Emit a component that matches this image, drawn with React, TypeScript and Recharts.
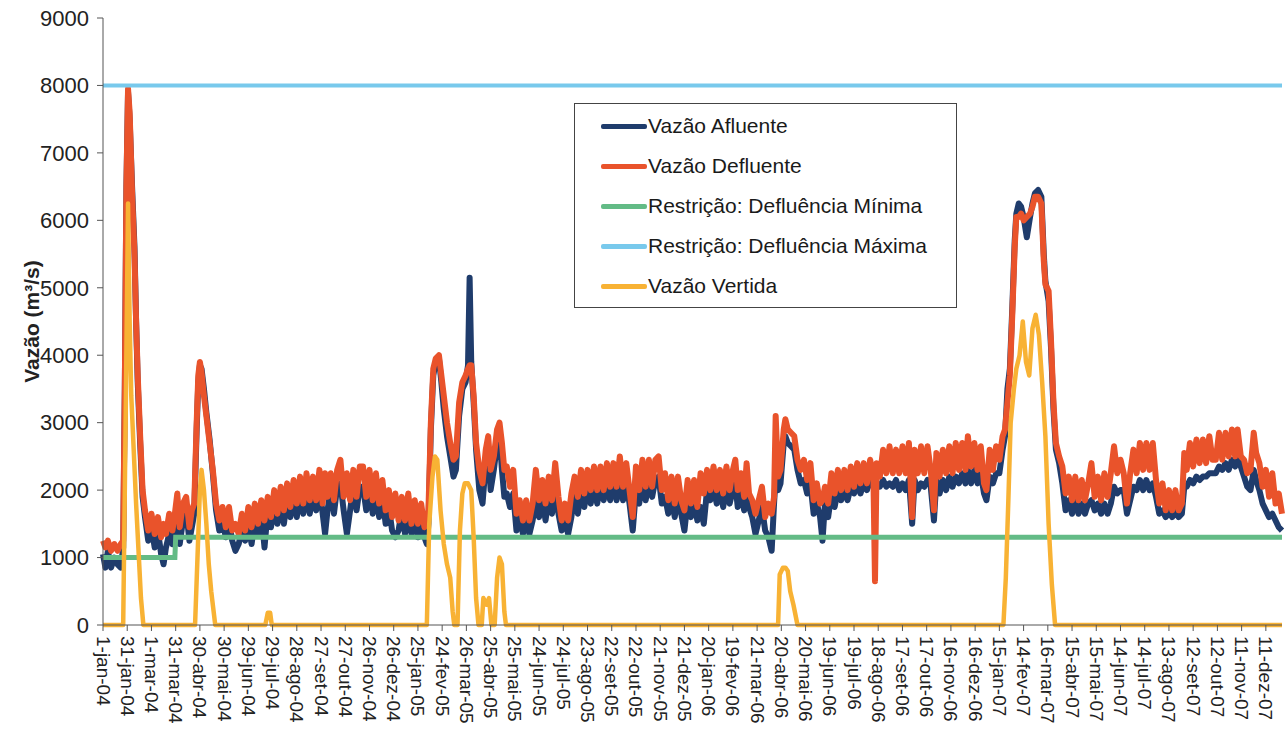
import * as React from "react";
import { LineChart, Line, XAxis, YAxis, Legend } from "recharts";

// x axis labels, one every 30 days starting on 1-jan-04 (day 0)
const tickLabels = [
  "1-jan-04", "31-jan-04", "1-mar-04", "31-mar-04", "30-abr-04", "30-mai-04", "29-jun-04",
  "29-jul-04", "28-ago-04", "27-set-04", "27-out-04", "26-nov-04", "26-dez-04", "25-jan-05",
  "24-fev-05", "26-mar-05", "25-abr-05", "25-mai-05", "24-jun-05", "24-jul-05", "23-ago-05",
  "22-set-05", "22-out-05", "21-nov-05", "21-dez-05", "20-jan-06", "19-fev-06", "21-mar-06",
  "20-abr-06", "20-mai-06", "19-jun-06", "19-jul-06", "18-ago-06", "17-set-06", "17-out-06",
  "16-nov-06", "16-dez-06", "15-jan-07", "14-fev-07", "16-mar-07", "15-abr-07", "15-mai-07",
  "14-jun-07", "14-jul-07", "13-ago-07", "12-set-07", "12-out-07", "11-nov-07", "11-dez-07",
];
const tickDays = tickLabels.map((_, i) => i * 30);
const yTicks = [0, 1000, 2000, 3000, 4000, 5000, 6000, 7000, 8000, 9000];

const legendOrder = [
  "Vazão Afluente",
  "Vazão Defluente",
  "Restrição: Defluência Mínima",
  "Restrição: Defluência Máxima",
  "Vazão Vertida",
];

// days since 1-jan-04 for the flow series
const flowDays = [
  0, 3, 6, 10, 14, 18, 22, 25, 27, 29,
  31, 33, 36, 39, 41, 43, 46, 49, 52, 56,
  60, 64, 68, 72, 75, 78, 82, 86, 89, 92,
  95, 99, 103, 107, 110, 113, 116, 118, 120, 122,
  125, 128, 132, 136, 140, 144, 148, 152, 156, 160,
  164, 168, 172, 176, 180, 184, 188, 192, 196, 200,
  204, 208, 212, 216, 220, 224, 228, 232, 236, 240,
  244, 248, 252, 256, 260, 264, 268, 272, 275, 278,
  282, 286, 290, 294, 298, 302, 306, 310, 314, 318,
  322, 326, 330, 334, 338, 342, 346, 350, 354, 358,
  362, 366, 370, 374, 378, 382, 386, 390, 394, 398,
  401, 403, 406, 409, 412, 416, 419, 422, 426, 430,
  434, 437, 441, 445, 449, 452, 454, 456, 459, 462,
  466, 470, 474, 477, 480, 484, 488, 491, 494, 497,
  500, 504, 508, 512, 516, 520, 524, 528, 532, 536,
  540, 544, 548, 552, 556, 560, 564, 568, 572, 576,
  580, 584, 588, 592, 596, 600, 604, 608, 612, 616,
  620, 624, 628, 632, 636, 640, 644, 648, 652, 656,
  660, 664, 668, 672, 676, 680, 684, 688, 692, 696,
  700, 704, 708, 712, 716, 720, 724, 728, 732, 736,
  740, 744, 748, 752, 756, 760, 764, 768, 772, 776,
  780, 783, 786, 790, 794, 797, 800, 804, 808, 812,
  816, 820, 824, 828, 831, 833, 836, 839, 843, 845,
  848, 852, 856, 860, 864, 868, 872, 876, 880, 884,
  888, 891, 894, 898, 902, 906, 910, 914, 918, 922,
  926, 930, 934, 938, 942, 946, 950, 954, 956, 958,
  962, 966, 970, 974, 978, 982, 986, 990, 994, 998,
  1002, 1005, 1009, 1013, 1017, 1021, 1025, 1029, 1032, 1036,
  1040, 1044, 1048, 1052, 1056, 1060, 1064, 1068, 1071, 1075,
  1079, 1083, 1087, 1091, 1094, 1098, 1102, 1106, 1110, 1114,
  1117, 1120, 1123, 1126, 1129, 1131, 1134, 1137, 1140, 1144,
  1148, 1151, 1154, 1158, 1162, 1165, 1167, 1171, 1174, 1177,
  1180, 1184, 1188, 1192, 1196, 1200, 1204, 1208, 1212, 1216,
  1220, 1224, 1228, 1232, 1236, 1240, 1244, 1248, 1252, 1256,
  1260, 1264, 1268, 1272, 1276, 1280, 1284, 1288, 1292, 1296,
  1300, 1304, 1308, 1312, 1316, 1320, 1324, 1328, 1332, 1336,
  1339, 1342, 1346, 1350, 1354, 1358, 1362, 1366, 1370, 1374,
  1378, 1382, 1386, 1390, 1394, 1398, 1402, 1405, 1409, 1413,
  1417, 1421, 1425, 1428, 1432, 1436, 1440, 1444, 1448, 1452,
  1456, 1460,
];

// Vazão Afluente (m3/s)
const afluente = [
  1050, 850, 1100, 850, 1000, 900, 850, 1150, 3500, 6500,
  7900, 7500, 6500, 5600, 4500, 3600, 2700, 1900, 1600, 1250,
  1450, 1150, 1400, 1050, 900, 1150, 1350, 1200, 1400, 1700,
  1200, 1550, 1700, 1250, 1450, 1650, 2900, 3600, 3850, 3800,
  3500, 3150, 2750, 2250, 1700, 1400, 1550, 1300, 1550, 1250,
  1100, 1200, 1400, 1250, 1500, 1200, 1550, 1350, 1650, 1150,
  1700, 1450, 1750, 1500, 1800, 1500, 1850, 1600, 1900, 1600,
  1950, 1650, 2000, 1650, 1950, 1700, 2050, 1650, 1350, 1700,
  2000, 1650, 2050, 2100, 1700, 1350, 1700, 2050, 1700, 2050,
  2050, 1700, 2050, 1650, 1950, 1600, 1900, 1500, 1750, 1400,
  1300, 1400, 1700, 1350, 1700, 1350, 1650, 1300, 1550, 1300,
  1200, 1500, 2900, 3700, 3900, 3950, 3600, 3200, 2800, 2500,
  2200, 2300, 3100, 3500, 3600, 3850, 5150, 3900, 3300, 2600,
  2000, 1800, 2400, 2600, 2000, 2300, 2700, 2800, 2300, 1900,
  1950, 1750, 1950, 1400, 1600, 1350, 1600, 1350, 1550, 1850,
  1600, 1900, 1550, 1900, 1650, 2000, 1650, 1400, 1550, 1350,
  1600, 2000, 1650, 2000, 1750, 2050, 1800, 2100, 1800, 2100,
  1850, 2100, 1850, 2150, 1850, 2150, 1850, 2100, 1800, 1400,
  2000, 1800, 2150, 1850, 2150, 1900, 2150, 2200, 1800, 1900,
  1650, 1900, 1600, 1900, 1650, 1400, 1850, 1600, 1850, 1550,
  1750, 1500, 2000, 1850, 2050, 1800, 2000, 1750, 2050, 1800,
  2000, 2100, 1750, 1950, 1700, 2050, 1750, 1600, 1350, 1550,
  1750, 1400, 1300, 1100, 1800, 2200, 2000, 2100, 2700, 2800,
  2700, 2650, 2600, 2300, 2100, 2150, 1950, 2100, 1650, 1800,
  1600, 1250, 1800, 1600, 1950, 1750, 2000, 1850, 2000, 1850,
  2050, 1950, 2100, 1950, 2100, 2000, 2150, 2050, 2000, 2050,
  2050, 2150, 2050, 2100, 2050, 2150, 2000, 2100, 2000, 2150,
  1500, 2150, 2000, 2100, 2050, 2150, 2050, 1550, 2150, 1950,
  2150, 2000, 2200, 2050, 2200, 2100, 2250, 2100, 2300, 2100,
  2300, 2100, 2250, 1950, 1850, 2200, 2100, 2250, 2250, 2600,
  2800, 3500, 3800, 4700, 5700, 6100, 6250, 6200, 6050, 5750,
  6050, 6250, 6400, 6450, 6350, 5500, 5100, 4800, 4100, 3200,
  2600, 2400, 2100, 1700, 1850, 1650, 1850, 1650, 1800, 1650,
  1800, 1850, 1700, 1800, 1650, 1800, 1650, 1800, 2050, 1950,
  2000, 2000, 1650, 1850, 2050, 2000, 2150, 2000, 2150, 2000,
  2100, 1900, 1650, 1700, 1600, 1700, 1600, 1700, 1600, 1650,
  2050, 2050, 2150, 2100, 2200, 2150, 2200, 2200, 2250, 2250,
  2250, 2350, 2300, 2400, 2300, 2450, 2350, 2600, 2350, 2200,
  2050, 2000, 2300, 2150, 2000, 1800, 1700, 1600, 1650, 1550,
  1450, 1400,
];

// Vazão Defluente (m3/s)
const defluente = [
  1250, 1150, 1250, 1100, 1200, 1100, 1200, 1250, 3500, 6500,
  7950, 7600, 6400, 5500, 4500, 3700, 2800, 2000, 1700, 1400,
  1650, 1350, 1600, 1300, 1500, 1350, 1650, 1400, 1650, 1950,
  1450, 1800, 1900, 1450, 1700, 1800, 3000, 3700, 3900, 3750,
  3400, 3100, 2700, 2300, 1800, 1550, 1750, 1450, 1750, 1400,
  1500, 1350, 1650, 1400, 1750, 1450, 1800, 1500, 1850, 1550,
  1900, 1600, 2000, 1650, 2050, 1700, 2100, 1750, 2150, 1800,
  2200, 1800, 2250, 1850, 2200, 1850, 2300, 1800, 2250, 1900,
  2250, 1850, 2300, 2450, 1900, 2250, 1850, 2300, 1900, 2350,
  2350, 1900, 2300, 1850, 2250, 1800, 2150, 1700, 2000, 1600,
  1950, 1550, 1900, 1550, 1950, 1500, 1850, 1500, 1800, 1450,
  1550, 1700, 3000, 3800, 3950, 4000, 3700, 3400, 3000, 2700,
  2450, 2500, 3300, 3600, 3700, 3800, 3850, 3850, 3400, 2700,
  2300, 2100, 2600, 2800, 2300, 2500, 2900, 3000, 2700, 2300,
  2350, 2050, 2300, 1650, 1850, 1550, 1850, 1550, 1800, 2300,
  1850, 2150, 1800, 2200, 1850, 2400, 1900, 1550, 1800, 1550,
  1950, 2200, 1900, 2300, 1950, 2300, 2000, 2350, 2000, 2350,
  2000, 2400, 2050, 2400, 2050, 2500, 2050, 2400, 2000, 1600,
  2350, 2000, 2450, 2050, 2450, 2050, 2450, 2500, 2000, 2250,
  1850, 2200, 1800, 2200, 1850, 1700, 2150, 1800, 2150, 1750,
  2250, 1950, 2300, 2000, 2350, 2000, 2300, 1950, 2350, 2000,
  2300, 2450, 2000, 2250, 1900, 2400, 1950, 1850, 1650, 1850,
  2050, 1600, 1800, 1650, 1900, 3100, 2200, 2300, 2900, 3050,
  2900, 2850, 2800, 2450, 2300, 2450, 2150, 2400, 1850, 2100,
  1800, 1850, 2050, 1800, 2250, 1950, 2300, 2000, 2300, 2000,
  2350, 2050, 2400, 2100, 2400, 2100, 2450, 2200, 650, 2400,
  2200, 2600, 2250, 2650, 2250, 2600, 2250, 2650, 2250, 2700,
  1600, 2600, 2250, 2650, 2250, 2650, 2300, 1700, 2550, 2200,
  2600, 2250, 2650, 2250, 2700, 2300, 2700, 2300, 2800, 2350,
  2700, 2300, 2650, 2100, 2000, 2600, 2300, 2650, 2450, 2800,
  2900, 3300, 3700, 4600, 5600, 6050, 6050, 6100, 6000, 6050,
  6100, 6200, 6350, 6350, 6250, 5400, 5050, 4950, 4200, 3300,
  2700, 2500, 2350, 1950, 2200, 1850, 2200, 1850, 2150, 1850,
  2100, 2400, 1900, 2200, 1850, 2250, 1900, 2250, 2650, 2250,
  2450, 2250, 1800, 2250, 2600, 2250, 2700, 2300, 2700, 2300,
  2700, 2150, 1800, 2100, 1700, 2000, 1700, 2000, 1700, 1800,
  2550, 2300, 2700, 2350, 2750, 2400, 2750, 2400, 2800, 2450,
  2450, 2850, 2450, 2850, 2500, 2900, 2500, 2900, 2500, 2450,
  2250, 2300, 2850, 2550, 2400, 2050, 2300, 1900, 2250, 1800,
  1950, 1650,
];

// Vazão Vertida: only the spill events, zero elsewhere
const vertidaDays = [
  0, 25, 28, 31, 33, 35, 38, 41, 44, 47, 50,
  114, 117, 120, 122, 125, 128, 131, 134, 139,
  201, 204, 207, 209,
  401, 404, 408, 411, 414, 418, 422, 426, 430, 433, 435,
  439, 442, 445, 448, 452, 456, 459, 462, 465,
  469, 471, 475, 478, 481, 485, 488, 491, 494, 497, 499,
  836, 838, 842, 845, 848, 851, 855, 860,
  1115, 1118, 1121, 1124, 1128, 1131, 1135, 1139, 1143, 1147,
  1151, 1155, 1159, 1163, 1167, 1171, 1175, 1179,
  1460,
];
const vertida = [
  0, 0, 3000, 6250, 4500, 3400, 2600, 1800, 1100, 400, 0,
  0, 1000, 2000, 2300, 2000, 1500, 900, 500, 0,
  0, 180, 180, 0,
  0, 1500, 2200, 2500, 2450, 1700, 1200, 900, 700, 200, 0,
  0, 1400, 1950, 2100, 2100, 2000, 1300, 400, 0,
  0, 400, 300, 400, 0, 0, 700, 1000, 900, 200, 0,
  0, 750, 850, 850, 800, 500, 300, 0,
  0, 700, 1800, 3000, 3500, 3800, 4000, 4500, 3900, 3700,
  4400, 4600, 4300, 3600, 2800, 1500, 600, 0,
  0,
];

// restrictions
const minimaDays = [0, 89, 90, 1460];
const minima = [1000, 1000, 1300, 1300];
const maximaDays = [0, 1460];
const maxima = [8000, 8000];

const flowData = flowDays.map((day, i) => ({
  day,
  afluente: afluente[i],
  defluente: defluente[i],
}));
const vertidaData = vertidaDays.map((day, i) => ({ day, v: vertida[i] }));
const minimaData = minimaDays.map((day, i) => ({ day, v: minima[i] }));
const maximaData = maximaDays.map((day, i) => ({ day, v: maxima[i] }));

const FONT = "'Liberation Sans', Arial, sans-serif";

const DateTick = (props: any) => {
  const { x, y, payload } = props;
  const label = tickLabels[Math.round(payload.value / 30)];
  return (
    <text
      x={x}
      y={y}
      transform={`rotate(90, ${x}, ${y})`}
      textAnchor="start"
      dominantBaseline="central"
      fontSize={19}
      fill="#222"
      fontFamily={FONT}
    >
      {label}
    </text>
  );
};

const YTitle = (props: any) => {
  const vb = props.viewBox || { y: 18, height: 607 };
  const cy = vb.y + vb.height / 2;
  return (
    <text
      x={31}
      y={cy}
      transform={`rotate(-90, 31, ${cy})`}
      textAnchor="middle"
      dominantBaseline="central"
      fontSize={21}
      fontWeight="bold"
      fill="#222"
      fontFamily={FONT}
    >
      Vazão (m³/s)
    </text>
  );
};

const renderLegend = (props: any) => {
  const items = [...(props.payload || [])].sort(
    (a: any, b: any) => legendOrder.indexOf(a.value) - legendOrder.indexOf(b.value)
  );
  return (
    <div
      style={{
        width: 381,
        height: 201,
        border: "1px solid #444",
        background: "#fff",
        paddingTop: 2,
        boxSizing: "content-box",
        fontFamily: FONT,
      }}
    >
      {items.map((item: any) => (
        <div
          key={item.value}
          style={{ height: 40, display: "flex", alignItems: "center" }}
        >
          <div
            style={{
              marginLeft: 26,
              width: 46,
              height: 5,
              borderRadius: 2,
              background: item.color,
            }}
          />
          <span style={{ marginLeft: 1, fontSize: 21, color: "#1a1a1a" }}>
            {item.value}
          </span>
        </div>
      ))}
    </div>
  );
};

export default function App() {
  return (
    <div style={{ position: "absolute", left: 0, top: 0, background: "#fff" }}>
      <LineChart
        width={1286}
        height={740}
        data={flowData}
        margin={{ top: 18, right: 4, bottom: 0, left: 0 }}
        style={{ fontFamily: FONT }}
      >
        <XAxis
          dataKey="day"
          type="number"
          domain={[0, 1460]}
          ticks={tickDays}
          interval={0}
          height={115}
          tickSize={6}
          tickMargin={5}
          tick={<DateTick />}
          axisLine={{ stroke: "#555" }}
          tickLine={{ stroke: "#555" }}
        />
        <YAxis
          type="number"
          domain={[0, 9000]}
          ticks={yTicks}
          interval={0}
          width={103}
          tickSize={6}
          tickMargin={8}
          tick={{ fontSize: 22, fill: "#222" }}
          axisLine={{ stroke: "#555" }}
          tickLine={{ stroke: "#555" }}
          label={{ value: "Vazão (m³/s)", content: <YTitle /> }}
        />
        <Legend
          layout="vertical"
          align="center"
          verticalAlign="middle"
          wrapperStyle={{ left: 574, top: 103, width: 383 }}
          content={renderLegend}
        />
        <Line
          name="Vazão Afluente"
          dataKey="afluente"
          stroke="#1f3c6c"
          strokeWidth={6}
          dot={false}
          activeDot={false}
          strokeLinejoin="round"
          isAnimationActive={false}
        />
        <Line
          name="Vazão Defluente"
          dataKey="defluente"
          stroke="#e9532b"
          strokeWidth={6}
          dot={false}
          activeDot={false}
          strokeLinejoin="round"
          isAnimationActive={false}
        />
        <Line
          name="Restrição: Defluência Mínima"
          data={minimaData}
          dataKey="v"
          stroke="#63bb86"
          strokeWidth={5}
          dot={false}
          activeDot={false}
          isAnimationActive={false}
        />
        <Line
          name="Restrição: Defluência Máxima"
          data={maximaData}
          dataKey="v"
          stroke="#78c9ec"
          strokeWidth={4}
          dot={false}
          activeDot={false}
          isAnimationActive={false}
        />
        <Line
          name="Vazão Vertida"
          data={vertidaData}
          dataKey="v"
          stroke="#f8b234"
          strokeWidth={4.5}
          dot={false}
          activeDot={false}
          strokeLinejoin="round"
          isAnimationActive={false}
        />
      </LineChart>
    </div>
  );
}
